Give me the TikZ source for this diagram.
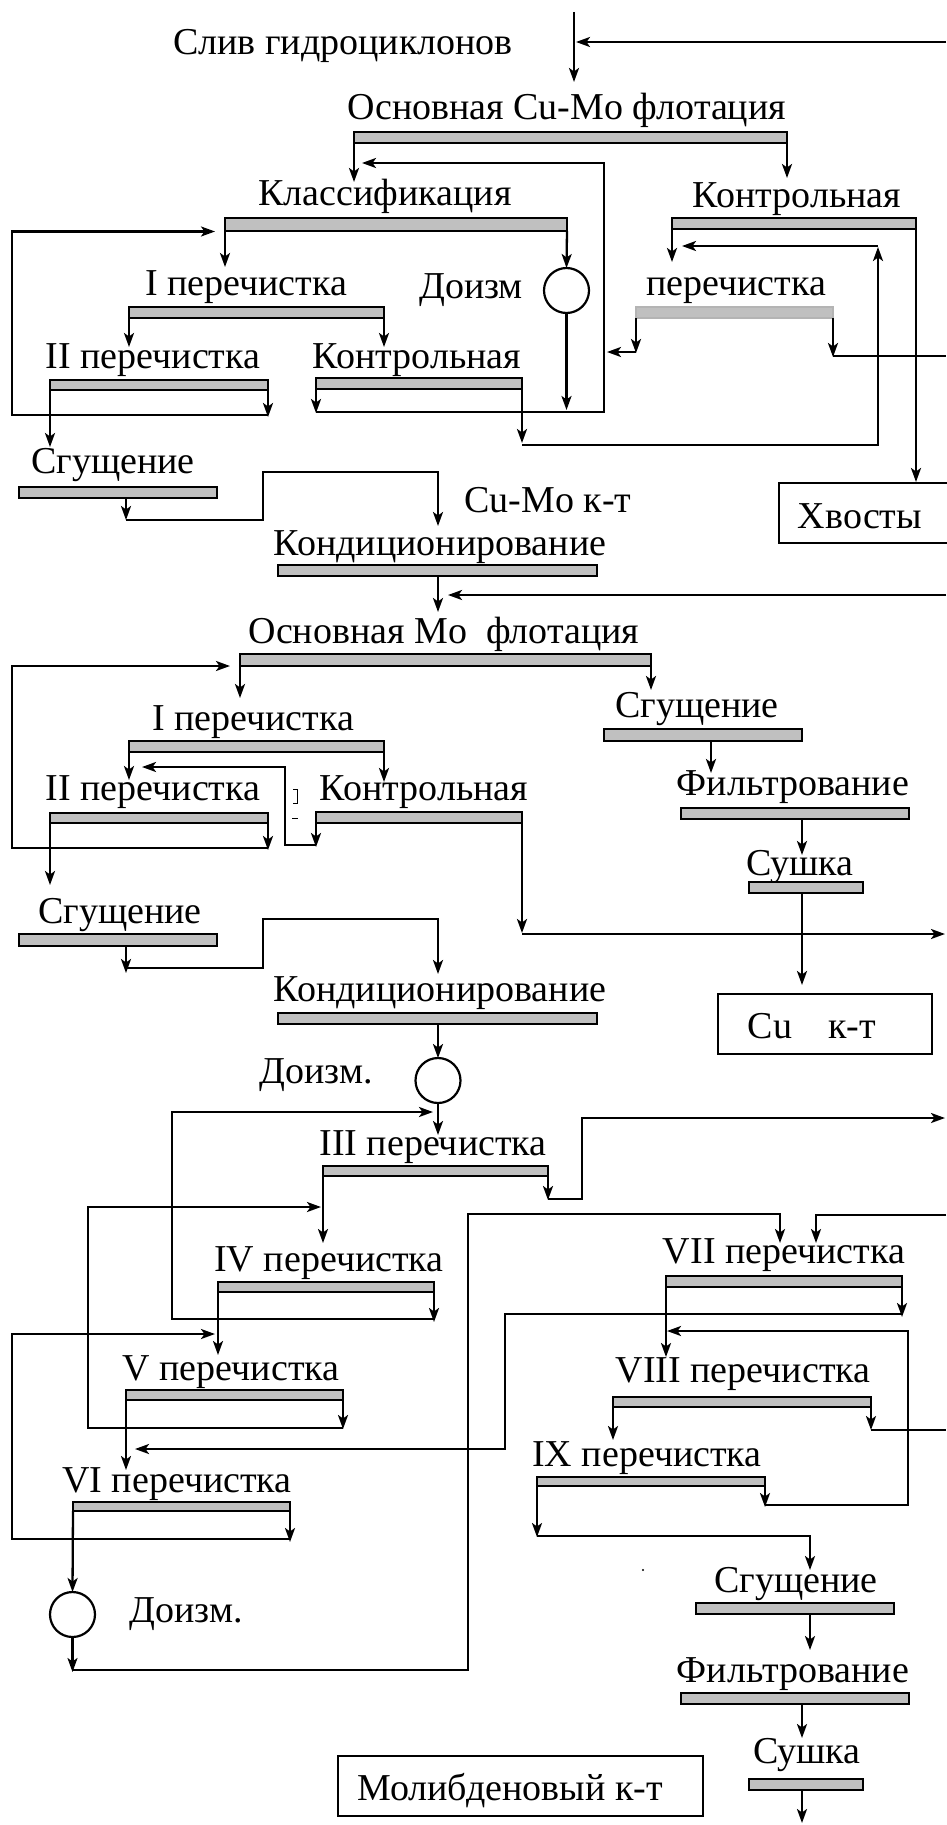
\documentclass[tikz,border=0pt]{standalone}
\usepackage{fontspec}
\setmainfont{Liberation Serif}
\usetikzlibrary{arrows.meta}
\definecolor{barfill}{HTML}{C0C0C0}
\definecolor{barlightline}{HTML}{B4B4B4}
\newcommand\pbar[6][]{\node[bar,#1,anchor=north west,minimum width={#5-#3},minimum height={#6-#4}] (#2) at (#3,#4) {};}
\begin{document}
\begin{tikzpicture}[x=1pt,y=-1pt,
  ln/.style={line width=2.3pt},
  arr/.style={line width=2.3pt,-{Stealth[length=14pt,width=10pt,inset=3.5pt]}},
  bar/.style={draw,fill=barfill,line width=2.2pt,inner sep=0pt,outer sep=0pt,rectangle},
  lightbar/.style={draw=barlightline,line width=1.4pt},
  lbl/.style={font=\fontsize{38}{44}\selectfont,inner sep=0pt,anchor=base},
  box/.style={draw,line width=2pt,rectangle,inner sep=0pt,outer sep=0pt},
  dz/.style={draw,circle,line width=2.2pt,minimum size=45pt,inner sep=0pt,outer sep=0pt}]
\fill[white] (0,0) rectangle (946,1825);
\useasboundingbox (0,0) rectangle (946,1825);

% ---------- labels ----------
\node[lbl] (t1) at (343,55) {Слив гидроциклонов};
\node[lbl] (t2) at (567,120) {Основная Cu-Mo флотация};
\node[lbl] (t3) at (385,205) {Классификация};
\node[lbl] (t4) at (797,207) {Контрольная};
\node[lbl] (t5) at (246,295) {I перечистка};
\node[lbl] (t6) at (471,298) {Доизм};
\node[lbl] (t7) at (736,295) {перечистка};
\node[lbl] (t8) at (153,368) {II перечистка};
\node[lbl] (t9) at (417,368) {Контрольная};
\node[lbl] (t10) at (113,473) {Сгущение};
\node[lbl] (t11) at (548,512) {Cu-Mo к-т};
\node[lbl] (t12) at (860,528) {Хвосты};
\node[lbl] (t13) at (440,555) {Кондиционирование};
\node[lbl] (t14) at (444,643) {Основная Mo~ флотация};
\node[lbl] (t15) at (253,730) {I перечистка};
\node[lbl] (t16) at (697,717) {Сгущение};
\node[lbl] (t17) at (153,800) {II перечистка};
\node[lbl] (t18) at (424,800) {Контрольная};
\node[lbl] (t19) at (793,795) {Фильтрование};
\node[lbl] (t20) at (800,875) {Сушка};
\node[lbl] (t21) at (120,923) {Сгущение};
\node[lbl] (t22) at (440,1001) {Кондиционирование};
\node[lbl] (t23) at (812,1038) {Cu\hspace{36pt}к-т};
\node[lbl] (t24) at (316,1083) {Доизм.};
\node[lbl] (t25) at (433,1155) {III перечистка};
\node[lbl] (t26) at (329,1271) {IV перечистка};
\node[lbl] (t27) at (784,1263) {VII перечистка};
\node[lbl] (t28) at (231,1380) {V перечистка};
\node[lbl] (t29) at (743,1382) {VIII перечистка};
\node[lbl] (t30) at (647,1466) {IX перечистка};
\node[lbl] (t31) at (177,1492) {VI перечистка};
\node[lbl] (t32) at (186,1622) {Доизм.};
\node[lbl] (t33) at (796,1592) {Сгущение};
\node[lbl] (t34) at (793,1682) {Фильтрование};
\node[lbl] (t35) at (807,1763) {Сушка};
\node[lbl] (t36) at (510,1800) {Молибденовый к-т};

% ---------- boxes and circles ----------
\node[box,anchor=north west,minimum width=190,minimum height=60] (bx1) at (779,483) {};
\node[box,anchor=north west,minimum width=214,minimum height=60] (bx2) at (718,994) {};
\node[box,anchor=north west,minimum width=365,minimum height=60] (bx3) at (338,1756) {};
\node[dz] (d1) at (566.5,290.5) {};
\node[dz] (d2) at (438,1080.5) {};
\node[dz] (d3) at (72.5,1614.5) {};

% ---------- bars ----------
\pbar{b1}{354}{132}{787}{143}
\pbar{b2}{225}{218}{567}{231}
\pbar{b3}{129}{307}{384}{318}
\pbar{b4}{50}{380}{268}{390}
\pbar{b5}{316}{378}{522}{389}
\pbar{b6}{672}{218}{916}{229}
\pbar[lightbar]{b7}{636}{307}{833}{318}
\pbar{b8}{19}{487}{217}{498}
\pbar{b9}{278}{565}{597}{576}
\pbar{b10}{240}{654}{651}{666}
\pbar{b11}{129}{741}{384}{752}
\pbar{b12}{50}{813}{268}{823}
\pbar{b13}{316}{812}{522}{823}
\pbar{b14}{604}{729}{802}{741}
\pbar{b15}{681}{808}{909}{819}
\pbar{b16}{749}{882}{863}{893}
\pbar{b17}{19}{934}{217}{946}
\pbar{b18}{278}{1013}{597}{1024}
\pbar{b19}{323}{1166}{548}{1176}
\pbar{b20}{218}{1282}{434}{1292}
\pbar{b21}{126}{1390}{343}{1400}
\pbar{b22}{73}{1502}{290}{1511}
\pbar{b23}{666}{1276}{902}{1287}
\pbar{b24}{613}{1397}{871}{1407}
\pbar{b25}{537}{1477}{765}{1486}
\pbar{b26}{696}{1603}{894}{1614}
\pbar{b27}{681}{1693}{909}{1704}
\pbar{b28}{749}{1779}{863}{1790}

% ---------- Cu-Mo section ----------
\coordinate (feed) at (574,12);
\draw[arr] (feed) -- (574,82);
\coordinate (recA) at (946,42);
\draw[arr] (recA) -- (576,42);
\draw[arr] (b1.south west) -- (b1.south west |- 0,182);
\draw[arr] (b1.south east) -- (b1.south east |- 0,178);
\draw[arr] (b2.south west) -- (b2.south west |- 0,267);
\draw[arr] (b2.south east) -- (d1.north);
\draw[arr] (d1.south) -- (566.5,410);
\draw[arr] (b3.south west) -- (b3.south west |- 0,347);
\draw[arr] (b3.south east) -- (b3.south east |- 0,347);
\draw[arr] (b4.south west) -- (b4.south west |- 0,447);
\draw[arr] (b4.south east) -- (b4.south east |- 0,417);
\draw[arr] (268,415) -- (12,415) -- (12,231.5) -- (215,231.5);
\draw[arr] (b5.south west) -- (b5.south west |- 0,413);
\draw[arr] (316,412) -- (604,412) -- (604,163) -- (362,163);
\draw[arr] (b5.south east) -- (b5.south east |- 0,443);
\draw[arr] (522,445) -- (878,445) -- (878,247);
\draw[arr] (878,246) -- (682,246);
\draw[arr] (b6.south west) -- (b6.south west |- 0,262);
\draw[arr] (b6.south east) -- (b6.south east |- 0,482);
\draw[arr] (b7.south west) -- (b7.south west |- 0,353);
\draw[arr] (636,352) -- (607,352);
\draw[arr] (b7.south east) -- (b7.south east |- 0,357);
\draw[ln] (833,356) -- (946,356);
\draw[arr] (b8.south -| 126,0) -- (126,520);
\draw[arr] (126,520) -- (263,520) -- (263,472) -- (438,472) -- (438,526);
\draw[arr] (b9.south -| 438,0) -- (438,612);
\coordinate (recB) at (946,595);
\draw[arr] (recB) -- (448,595);

% ---------- Mo section ----------
\draw[arr] (b10.south west) -- (b10.south west |- 0,698);
\draw[arr] (b10.south east) -- (b10.south east |- 0,690);
\draw[arr] (b11.south west) -- (b11.south west |- 0,780);
\draw[arr] (b11.south east) -- (b11.south east |- 0,782);
\draw[arr] (b12.south west) -- (b12.south west |- 0,885);
\draw[arr] (b12.south east) -- (b12.south east |- 0,850);
\draw[arr] (268,848) -- (12,848) -- (12,666) -- (230,666);
\draw[arr] (b13.south west) -- (b13.south west |- 0,847);
\draw[arr] (316,845) -- (285,845) -- (285,767) -- (142,767);
\draw[arr] (b13.south east) -- (b13.south east |- 0,933);
\draw[arr] (522,934) -- (945,934);
\draw[arr] (b14.south -| 711,0) -- (711,773);
\draw[arr] (b15.south -| 802,0) -- (802,855);
\draw[arr] (b16.south -| 802,0) -- (802,985);
\draw[arr] (b17.south -| 126,0) -- (126,973);
\draw[arr] (126,968) -- (263,968) -- (263,919) -- (438,919) -- (438,974);
\draw[arr] (b18.south -| 438,0) -- (d2.north);
\draw[arr] (d2.south) -- (438,1135);
% small marks
\draw[line width=0.8pt] (293,789) -- (297,789) -- (297,803) -- (293,803);
\draw[line width=1pt] (292,818) -- (298,818);

% ---------- cleaner cascade ----------
\draw[arr] (b19.south east) -- (b19.south east |- 0,1200);
\draw[arr] (548,1199) -- (582,1199) -- (582,1118) -- (945,1118);
\draw[arr] (b19.south west) -- (b19.south west |- 0,1243);
\draw[arr] (b20.south east) -- (b20.south east |- 0,1322);
\draw[arr] (434,1319) -- (172,1319) -- (172,1112) -- (433,1112);
\draw[arr] (b20.south west) -- (b20.south west |- 0,1355);
\draw[arr] (b21.south east) -- (b21.south east |- 0,1429);
\draw[arr] (343,1428) -- (88,1428) -- (88,1207) -- (321,1207);
\draw[arr] (b21.south west) -- (b21.south west |- 0,1470);
\draw[arr] (b22.south east) -- (b22.south east |- 0,1542);
\draw[arr] (290,1539) -- (12,1539) -- (12,1334) -- (215,1334);
\draw[arr] (b22.south west) -- (d3.north);
\draw[arr] (d3.south) -- (72.5,1672);
\draw[arr] (72.5,1670) -- (468,1670) -- (468,1214) -- (780,1214) -- (780,1243);
\coordinate (recC) at (946,1215);
\draw[arr] (recC) -- (816,1215) -- (816,1243);
\draw[arr] (b23.south east) -- (b23.south east |- 0,1317);
\draw[arr] (902,1314) -- (505,1314) -- (505,1449) -- (135,1449);
\draw[arr] (b23.south west) -- (b23.south west |- 0,1357);
\draw[arr] (b24.south west) -- (b24.south west |- 0,1440);
\draw[arr] (b24.south east) -- (b24.south east |- 0,1430);
\draw[ln] (871,1430) -- (946,1430);
\draw[arr] (b25.south east) -- (b25.south east |- 0,1507);
\draw[arr] (765,1505) -- (908,1505) -- (908,1331) -- (667,1331);
\draw[arr] (b25.south west) -- (b25.south west |- 0,1537);
\draw[arr] (537,1536) -- (810,1536) -- (810,1570);
\draw[arr] (b26.south -| 810,0) -- (810,1650);
\draw[arr] (b27.south -| 802,0) -- (802,1738);
\draw[arr] (b28.south -| 802,0) -- (802,1823);
\fill (643,1570) circle (1.2);
\end{tikzpicture}
\end{document}
